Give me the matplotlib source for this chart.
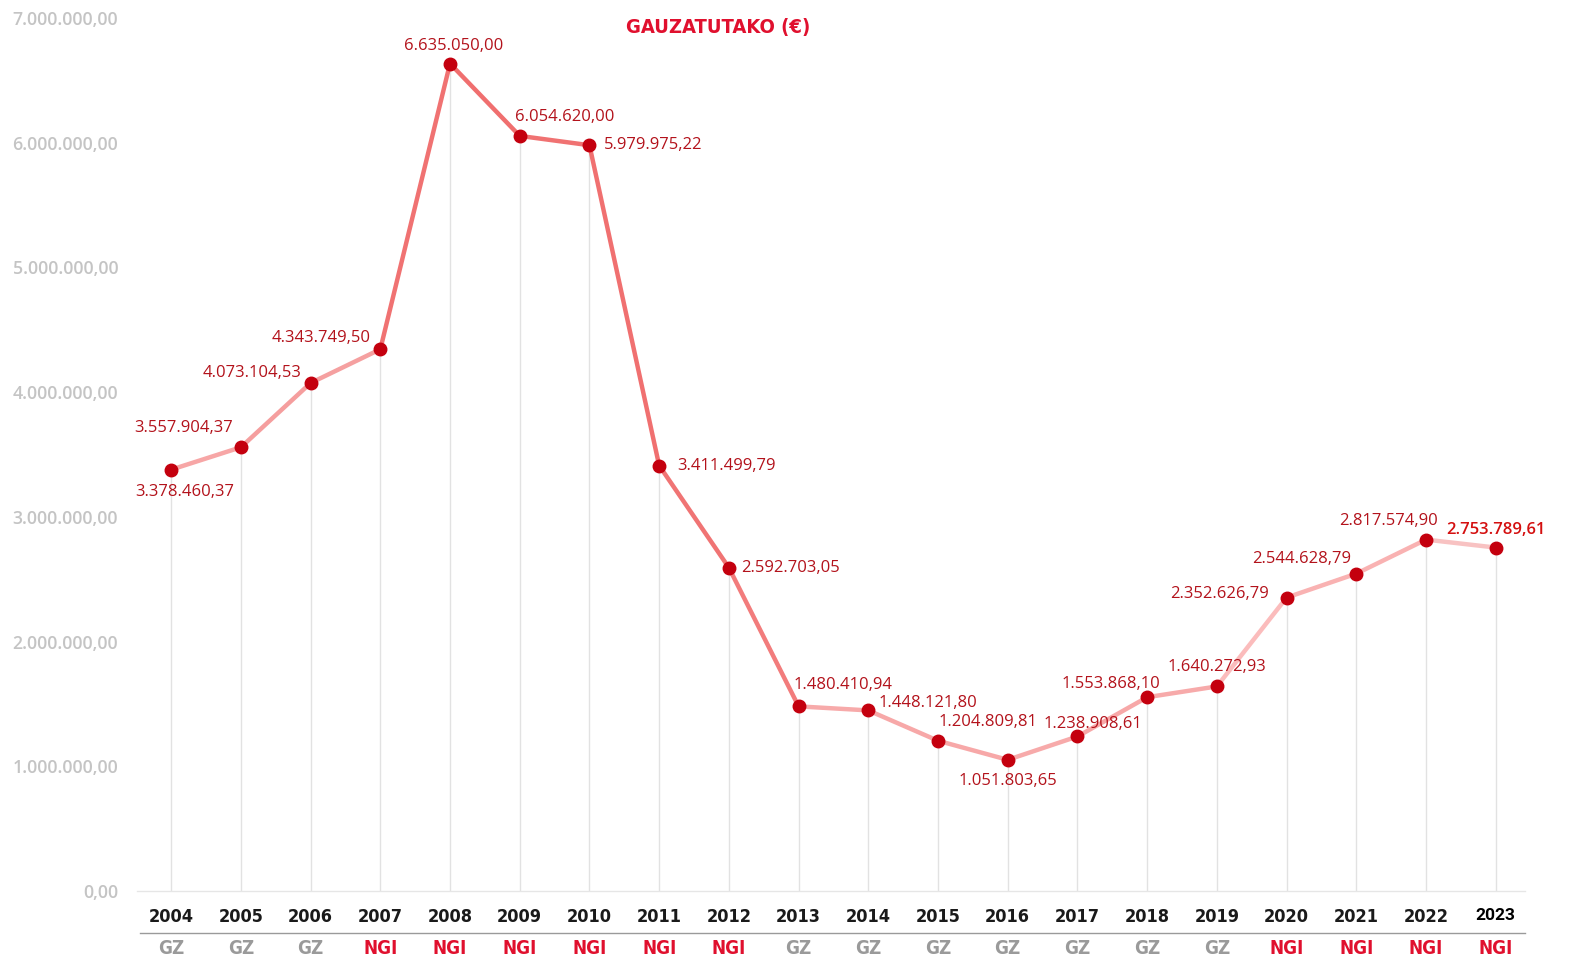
import matplotlib
matplotlib.use("Agg")
import matplotlib.pyplot as plt
from matplotlib.ticker import FuncFormatter

years = [2004, 2005, 2006, 2007, 2008, 2009, 2010, 2011, 2012, 2013,
         2014, 2015, 2016, 2017, 2018, 2019, 2020, 2021, 2022, 2023]
values = [3378460.37, 3557904.37, 4073104.53, 4343749.50, 6635050.00,
          6054620.00, 5979975.22, 3411499.79, 2592703.05, 1480410.94,
          1448121.80, 1204809.81, 1051803.65, 1238908.61, 1553868.10,
          1640272.93, 2352626.79, 2544628.79, 2817574.90, 2753789.61]
groups = ["GZ", "GZ", "GZ", "NGI", "NGI", "NGI", "NGI", "NGI", "NGI", "GZ",
          "GZ", "GZ", "GZ", "GZ", "GZ", "GZ", "NGI", "NGI", "NGI", "NGI"]
title = "GAUZATUTAKO (€)"
yticks = [0, 1e6, 2e6, 3e6, 4e6, 5e6, 6e6, 7e6]

# styling / layout
seg_colors = ["#f7a6a6", "#f59e9e", "#f5a0a0", "#f07272", "#f06f6f", "#f07272",
              "#f07070", "#f07474", "#f27c7c", "#f7aaaa", "#f7a8a8", "#f7a8a8",
              "#f7aaaa", "#f7a8a8", "#f7aaaa", "#fbbcbc", "#f9b2b2", "#f9b2b2",
              "#f8c2c2"]
# label offsets in pixels (dx, dy, ha)
label_offsets = [(14, -22, "center"), (-57, 19, "center"), (-59, 10, "center"),
                 (-59, 11, "center"), (4, 18, "center"), (45, 19, "center"),
                 (14, 0, "left"), (18, 0, "left"), (12, 0, "left"),
                 (44, 21, "center"), (10, 7, "left"), (50, 19, "center"),
                 (0, -21, "center"), (15, 12, "center"), (-36, 13, "center"),
                 (0, 19, "center"), (-18, 4, "right"), (-55, 15, "center"),
                 (-38, 19, "center"), (0, 18, "center")]

COND = dict(family=["DejaVu Sans"], fontstretch="condensed")


def fmt_eu(v, decimals=2):
    s = f"{v:,.{decimals}f}"
    return s.replace(",", "X").replace(".", ",").replace("X", ".")


W, H = 1569, 958
fig = plt.figure(figsize=(W / 100, H / 100), dpi=100)
fig.patch.set_facecolor("white")
ax = fig.add_axes([137 / W, (H - 891) / H, (1525 - 137) / W, (891 - 18) / H])

ax.set_xlim(2003.51, 2023.42)
ax.set_ylim(0, 7e6)

# drop lines
ax.vlines(years, 0, values, colors="#e2e2e2", linewidth=1.0, zorder=1)

# line segments
for i in range(len(years) - 1):
    ax.plot(years[i:i + 2], values[i:i + 2], color=seg_colors[i], linewidth=3.2,
            solid_capstyle="round", zorder=2)

ax.plot(years, values, linestyle="none", marker="o", markersize=9,
        markerfacecolor="#c4000e", markeredgecolor="#c4000e", zorder=3)

for i, (x, v) in enumerate(zip(years, values)):
    dx, dy, ha = label_offsets[i]
    last = i == len(years) - 1
    ax.annotate(fmt_eu(v), (x, v), xytext=(dx * 0.72, dy * 0.72),
                textcoords="offset points", ha=ha, va="center",
                fontsize=12, family=["Open Sans", "DejaVu Sans"],
                color="#d41010" if last else "#b3121b",
                fontweight="semibold" if last else "normal", zorder=4)

# axes styling
for s in ["left", "right", "top"]:
    ax.spines[s].set_visible(False)
ax.spines["bottom"].set_color("#e6e6e6")
ax.spines["bottom"].set_linewidth(1.0)
ax.set_yticks(yticks)
ax.yaxis.set_major_formatter(FuncFormatter(lambda v, p: fmt_eu(v)))
ax.tick_params(axis="y", length=0, pad=13.5, labelsize=12.8, labelcolor="#c4c4c4")
for lbl in ax.get_yticklabels():
    lbl.set_family(["Open Sans", "DejaVu Sans"])
    lbl.set_fontweight("semibold")
ax.set_xticks([])

# year labels and group labels
trans = ax.get_xaxis_transform()
for i, (x, g) in enumerate(zip(years, groups)):
    last = i == len(years) - 1
    if not last:
        ax.text(x, -26 / 873, str(x), transform=trans, ha="center", va="center",
                fontsize=13, fontweight="bold", color="#1a1a1a", **COND)
    else:
        ax.text(x, -25 / 873, str(x), transform=trans, ha="center", va="center",
                fontsize=12.5, family=["Roboto", "DejaVu Sans"],
                fontweight="bold", color="#000000")
    ax.text(x, -58 / 873, g, transform=trans, ha="center", va="center",
            fontsize=13.5, fontweight="bold",
            color="#e0102e" if g == "NGI" else "#9a9a9a", **COND)

# separator line between years and groups
fig.add_artist(plt.Line2D([140 / W, 1525 / W], [(H - 933) / H, (H - 933) / H],
                          color="#9a9a9a", linewidth=1.0))

fig.text(718 / W, (H - 27) / H, title, ha="center", va="center", fontsize=14.5,
         fontweight="bold", color="#e0102e", **COND)

fig.savefig("out.png", dpi=100, facecolor="white")
